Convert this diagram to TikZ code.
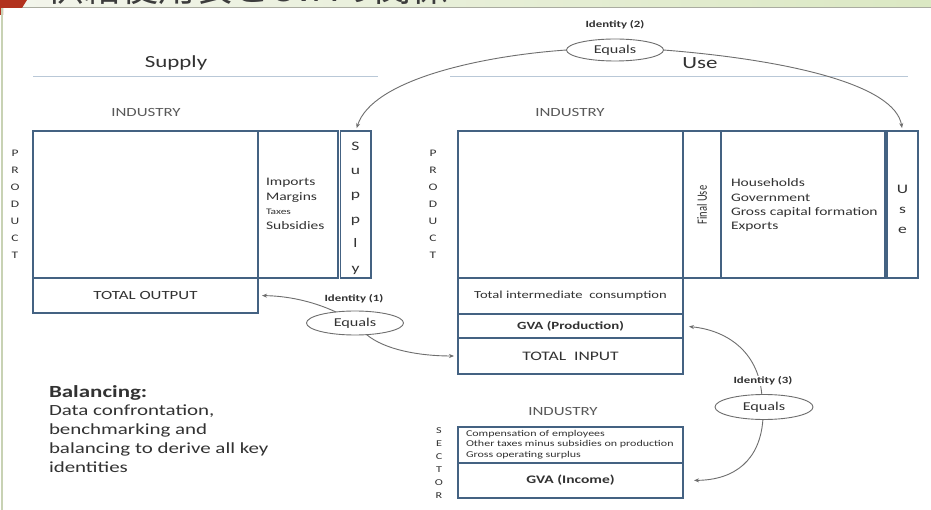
\documentclass[tikz,border=0pt]{standalone}
\usepackage{fontspec}
\setmainfont{Carlito}[FakeStretch=1.35]
\newfontfamily\plainf{Carlito}
\newfontfamily\cjkf{Noto Sans CJK JP}
\usetikzlibrary{shapes.geometric,arrows.meta}
\definecolor{boxc}{RGB}{68,98,130}
\definecolor{txt}{RGB}{50,50,50}
\definecolor{arrc}{RGB}{110,110,110}
\definecolor{rulec}{RGB}{185,200,215}
\definecolor{bannerL}{RGB}{243,245,236}
\definecolor{bannerR}{RGB}{219,232,195}
\definecolor{bannerline}{RGB}{170,172,160}
\definecolor{tabred}{RGB}{178,50,30}
\definecolor{edgec}{RGB}{200,210,180}
\definecolor{titlec}{RGB}{60,60,60}
\newcommand{\myfs}[1]{\fontsize{#1}{#1}\selectfont}
\begin{document}
\begin{tikzpicture}[x=1pt,y=-1pt,
  every node/.style={text=txt, inner sep=0pt, outer sep=0pt},
  cell/.style={draw=boxc, line width=1.4pt, anchor=north west, align=center},
  eqs/.style={ellipse, draw=arrc, line width=0.9pt, font=\myfs{12}},
  idl/.style={font=\bfseries\myfs{9.5}},
  conn/.style={draw=arrc, line width=0.9pt, -{Stealth[length=5pt,width=4pt]}},
  sect/.style={draw=rulec, line width=1pt},
  small/.style={font=\myfs{11.5}, anchor=west}
]
\useasboundingbox (0,0) rectangle (931,510);
\fill[white] (0,0) rectangle (931,510);
% banner
\shade[left color=bannerL, right color=bannerR] (0,0) rectangle (931,7.5);
\begin{scope}
\clip (0,0) rectangle (931,7.5);
\node[anchor=base west, font=\cjkf\fontsize{37}{37}\selectfont, text=titlec] (title) at (47,2) {供給使用表とGVAの関係};
\end{scope}
\draw[bannerline, line width=1pt] (0,7.5) -- (931,7.5);
\fill[tabred] (0,0) -- (27,0) -- (22,8) -- (3,8) -- (3,15) -- (0,15) -- cycle;
\draw[edgec, line width=1.5pt] (2,8) -- (2,510);

% headings
\node[font=\myfs{17}] (supplyh) at (176,63) {Supply};
\draw[sect] (33,77) -- (378,77);
\node[font=\myfs{17}] (useh) at (700,63) {Use};
\draw[sect] (450,77) -- (908,77);
\node[font=\myfs{12.5}, text=black!65] (ind1) at (146,112) {INDUSTRY};
\node[font=\myfs{12.5}, text=black!65] (ind2) at (570,112) {INDUSTRY};
\node[font=\myfs{12.5}, text=black!65] (ind3) at (563,411) {INDUSTRY};

% supply table
\node[cell, minimum width=225, minimum height=147] (smat) at (33,131) {};
\node[cell, minimum width=80, minimum height=147] (smarg) at (258,131) {};
\node[cell, minimum width=30.5, minimum height=147] (scol) at (340.5,131) {};
\node[cell, minimum width=225, minimum height=35, font=\myfs{12.5}] (tout) at (33,278) {TOTAL OUTPUT};
\node[small] (imp) at (266,183) {Imports};
\node[small] (mar) at (266,198) {Margins};
\node[small, font=\myfs{8.5}] (tax) at (266,212) {Taxes};
\node[small] (sub) at (266,226) {Subsidies};
\node[align=center, font=\fontsize{13}{24.4}\selectfont] (suplet) at (355.5,208) {S\\u\\p\\p\\l\\y};
\node[align=center, font=\fontsize{10}{17}\selectfont] (prod1) at (15,204) {P\\R\\O\\D\\U\\C\\T};

% use table
\node[cell, minimum width=225, minimum height=147] (umat) at (458,131) {};
\node[cell, minimum width=38, minimum height=147] (ufin) at (683,131) {};
\node[cell, minimum width=164, minimum height=147] (ucomp) at (721,131) {};
\node[cell, minimum width=31, minimum height=147] (ucol) at (887,131) {};
\node[rotate=90] (finl) at (702,205) {\scalebox{1}[1.35]{\plainf\myfs{10.5}Final Use}};
\node[small] (hh) at (731,183) {Households};
\node[small] (gov) at (731,198) {Government};
\node[small] (gcf) at (731,212) {Gross capital formation};
\node[small] (exp) at (731,227) {Exports};
\node[align=center, font=\fontsize{13}{20}\selectfont] (uselet) at (902.5,209) {U\\s\\e};
\node[align=center, font=\fontsize{10}{17}\selectfont] (prod2) at (433,204) {P\\R\\O\\D\\U\\C\\T};
\node[cell, minimum width=225, minimum height=36, font=\myfs{10.8}] (tic) at (458,278) {Total intermediate\ \ consumption};
\node[cell, minimum width=225, minimum height=24, font=\bfseries\myfs{11}] (gvap) at (458,314) {GVA (Production)};
\node[cell, minimum width=225, minimum height=36, font=\myfs{13}] (tin) at (458,338) {TOTAL\ \ INPUT};

% sector table
\node[cell, minimum width=225, minimum height=36] (comp) at (458,427) {};
\node[cell, minimum width=225, minimum height=35, font=\bfseries\myfs{11.5}] (gvai) at (458,463) {GVA (Income)};
\node[small, font=\myfs{8.9}] (c1) at (466,434) {Compensation of employees};
\node[small, font=\myfs{8.9}] (c2) at (466,444.5) {Other taxes minus subsidies on production};
\node[small, font=\myfs{8.9}] (c3) at (466,455) {Gross operating surplus};
\node[align=center, font=\fontsize{9}{13}\selectfont] (sector) at (439,463.5) {S\\E\\C\\T\\O\\R};

% balancing
\node[anchor=west, font=\bfseries\myfs{17}] (balh) at (49,393) {Balancing:};
\node[anchor=north west, align=left, font=\fontsize{15.5}{19}\selectfont] (balt) at (49,405) {Data confrontation,\\benchmarking and\\balancing to derive all key\\identities};

% identities
\node[eqs, minimum width=97, minimum height=22] (e2) at (615,50) {Equals};
\node[idl] (id2) at (615,25) {Identity (2)};
\node[eqs, minimum width=97, minimum height=24] (e1) at (355,323) {Equals};
\node[idl] (id1) at (354,299) {Identity (1)};
\node[eqs, minimum width=98, minimum height=25] (e3) at (764,407) {Equals};

\draw[conn, shorten >=3pt] (e2.west) .. controls (480,56) and (372,80) .. (scol.north);
\draw[conn, shorten >=3pt] (e2.east) .. controls (790,60) and (895,85) .. (ucol.north);
\draw[conn, shorten >=4pt] (e1.150) .. controls (310,300) and (285,296) .. (tout.east);
\draw[conn, shorten >=4pt] (e1.-45) .. controls (385,350) and (420,356) .. (tin.west);
\draw[conn, shorten >=6pt] (e3.100) .. controls (758,350) and (725,330) .. (gvap.east);
\draw[conn, shorten >=11pt] (e3.-95) .. controls (760,460) and (735,480) .. (gvai.east);
\node[idl, fill=white, inner sep=0.5pt] (id3) at (763,381) {Identity (3)};
\end{tikzpicture}
\end{document}
